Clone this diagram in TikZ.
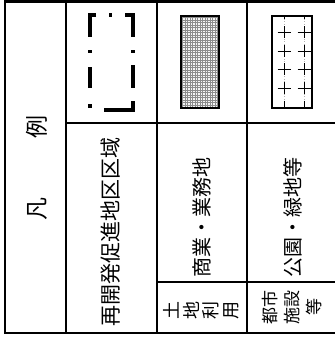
\documentclass[tikz,border=0pt]{standalone}
\usepackage{fontspec}
\setmainfont{Noto Sans CJK JP}
\begin{document}
\begin{tikzpicture}[x=1pt,y=-1pt,
  frame/.style={line width=2.5pt, line join=miter},
  rule/.style={line width=2.2pt},
  lab/.style={rotate=90, inner sep=0pt, font=\fontsize{20}{20}\selectfont},
  stack/.style={rotate=90, inner sep=0pt, align=center},
  dashdot/.style={line width=3.6pt, line cap=butt, line join=miter},
  thinbox/.style={line width=1.1pt},
  crossline/.style={line width=1pt}
]
\useasboundingbox (0,0) rectangle (335,340);
% frame and rules
\draw[frame] (335,1.5) -- (5,1.5) -- (5,333) -- (335,333);
\draw[rule] (66,1.5) -- (66,333);
\draw[rule] (157,1.5) -- (157,333);
\draw[rule] (247,1.5) -- (247,333);
\draw[rule] (66,123) -- (335,123);
\draw[rule] (157,282) -- (335,282);
% header
\node[lab, font=\fontsize{23}{23}\selectfont] (rei) at (37,127) {例};
\node[lab, font=\fontsize{23}{23}\selectfont] (han) at (37,209) {凡};
% dash-dot rectangle
\draw[dashdot] (96,15) -- (90,15) -- (90,37);
\draw[dashdot] (109,15) -- (112,15);
\draw[dashdot] (125,15) -- (133,15) -- (133,37);
\draw[dashdot] (133,50) -- (133,53);
\draw[dashdot] (133,65) -- (133,88);
\draw[dashdot] (133,101) -- (133,110) -- (104,110);
\draw[dashdot] (90,104) -- (90,108);
\draw[dashdot] (90,67) -- (90,88);
\draw[dashdot] (90,50) -- (90,53);
\node[lab, font=\fontsize{21}{21}\selectfont] (saikai) at (111,232) {再開発促進地区区域};
% grid rectangle
\fill[gray!8] (181,16) rectangle (219,108);
\draw[line width=0.4pt, black!45, step=2.5pt] (181,16) grid (219,108);
\draw[thinbox] (181,16) rectangle (219,108);
\node[lab] (shogyo) at (202,217) {商業・業務地};
% plus rectangle
\draw[thinbox] (272,16) rectangle (312,108);
\foreach \xx in {284,304}{
  \draw[line width=0.5pt, gray!60, dotted] (\xx,16) -- (\xx,108);
  \draw[crossline, dash pattern=on 12pt off 6.7pt, dash phase=8.7pt] (\xx,16) -- (\xx,108);
  \foreach \yy in {32,51,69,88}{
    \draw[crossline] (\xx-6.5,\yy) -- (\xx+6.5,\yy);
  }
}
\node[lab] (koen) at (293,217) {公園・緑地等};
% category cells
\node[stack, font=\fontsize{18}{19.5}\selectfont] (tochi) at (201,310) {土\\地\\利\\用};
\node[stack, font=\fontsize{17}{22}\selectfont] (toshi) at (292,307) {都市\\施設\\等};
\end{tikzpicture}
\end{document}
